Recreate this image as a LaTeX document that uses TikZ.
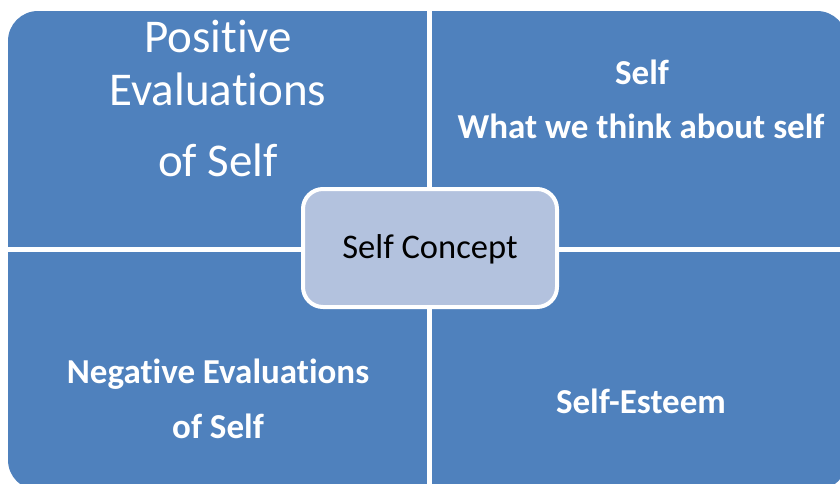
\documentclass[tikz,border=0pt]{standalone}
\usepackage{fontspec}
\setmainfont{Carlito}[Ligatures=NoCommon]
\usepackage{tikz}
\definecolor{quadblue}{RGB}{79,129,189}
\definecolor{coreblue}{RGB}{179,194,222}
\tikzset{
	bigtext/.style={text=white, font=\fontsize{47}{51}\selectfont},
	boldtext/.style={text=white, font=\fontsize{35}{39}\selectfont\bfseries},
	coretext/.style={text=black, font=\fontsize{34.5}{38}\selectfont}
}

\begin{document}
\begin{tikzpicture}[x=1pt, y=-1pt]
		%%%%% START %%%%%
		\useasboundingbox (0, 0) rectangle (840, 483);
		\clip (0, 0) rectangle (840, 483);
		
		\fill[quadblue, rounded corners=30pt] (8, 11) rectangle (847, 490);
		
		\draw[line width=5pt, color=white] (429.5, 0) -- (429.5, 490);
		\draw[line width=5pt, color=white] (0, 249.5) -- (847, 249.5);
		
		\draw[line width=4pt, color=white, fill=coreblue, rounded corners=20pt] (303, 189) rectangle (557, 307);
		\node[coretext] (core) at (430, 249) {Self Concept};
		
		\node[bigtext] (pos1) at (218, 36) {Positive};
		\node[bigtext] (pos2) at (218, 89) {Evaluations};
		\node[bigtext] (pos3) at (218, 160) {of Self};
		
		\node[boldtext] (self1) at (642, 72) {Self};
		\node[boldtext] (self2) at (641, 126) {What we think about self};
		
		\node[boldtext] (neg1) at (218, 374) {Negative Evaluations};
		\node[boldtext] (neg2) at (218, 426) {of Self};
		
		\node[boldtext] (esteem) at (641, 401) {Self-Esteem};
		
		%%%%% END %%%%%
	\end{tikzpicture}
\end{document}
